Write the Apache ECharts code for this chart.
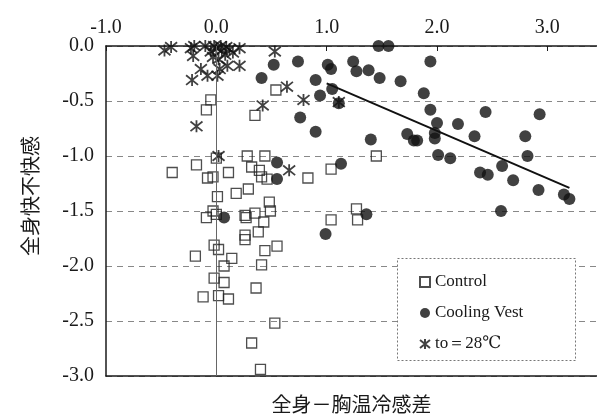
<!DOCTYPE html>
<html>
<head>
<meta charset="utf-8">
<script src="https://cdn.jsdelivr.net/npm/echarts@6/dist/echarts.min.js"></script>
<style>
  html, body { margin: 0; padding: 0; background: #fff; }
  #chart { width: 597px; height: 419px; }
</style>
</head>
<body>
<div id="chart"></div>
<script>
// values: [全身－胸温冷感差, 全身快不快感]
const controlPts = [
  [0.54, -0.40], [-0.05, -0.49], [-0.09, -0.58], [0.35, -0.63], [0.28, -1.00], [0.44, -1.00],
  [0.00, -1.02], [-0.18, -1.08], [-0.40, -1.15], [0.11, -1.15], [0.32, -1.10], [0.39, -1.13],
  [0.41, -1.19], [0.46, -1.21], [-0.08, -1.20], [-0.03, -1.19], [0.83, -1.20], [0.01, -1.37],
  [0.18, -1.34], [0.29, -1.30], [0.48, -1.42], [-0.03, -1.50], [-0.09, -1.56], [0.00, -1.53],
  [0.26, -1.54], [0.27, -1.56], [0.35, -1.52], [0.49, -1.50], [0.43, -1.60], [0.26, -1.72],
  [0.26, -1.76], [0.38, -1.69], [-0.02, -1.81], [0.02, -1.85], [-0.19, -1.91], [0.14, -1.93],
  [0.44, -1.86], [0.55, -1.82], [0.07, -2.00], [0.41, -1.99], [-0.02, -2.11], [0.07, -2.15],
  [-0.12, -2.28], [0.02, -2.27], [0.11, -2.30], [0.36, -2.20], [0.53, -2.52], [0.32, -2.70],
  [0.40, -2.94], [1.45, -1.00], [1.04, -1.12], [1.27, -1.48], [1.28, -1.58], [1.04, -1.58]
];
const vestPts = [
  [0.74, -0.14], [1.01, -0.17], [1.04, -0.21], [1.24, -0.14], [1.27, -0.23], [1.38, -0.22],
  [1.48, -0.29], [1.67, -0.32], [1.94, -0.14], [0.90, -0.31], [0.94, -0.45], [1.05, -0.39],
  [1.11, -0.52], [0.76, -0.65], [0.90, -0.78], [1.40, -0.85], [1.88, -0.43], [1.73, -0.80],
  [1.79, -0.86], [1.82, -0.86], [1.94, -0.58], [2.00, -0.70], [1.98, -0.79], [1.98, -0.84],
  [2.01, -0.99], [2.12, -1.02], [2.19, -0.71], [2.34, -0.82], [2.44, -0.60], [2.39, -1.15],
  [2.46, -1.17], [2.59, -1.09], [2.69, -1.22], [2.80, -0.82], [2.82, -1.00], [2.93, -0.62],
  [2.92, -1.31], [3.15, -1.35], [3.20, -1.39], [2.58, -1.50], [1.13, -1.07], [1.36, -1.53],
  [1.47, 0.00], [1.56, 0.00], [0.52, -0.17], [0.41, -0.29], [0.55, -1.06], [0.55, -1.21],
  [0.07, -1.56], [0.99, -1.71]
];
const to28Pts = [
  [-0.47, -0.04], [-0.41, -0.01], [-0.23, -0.02], [-0.20, 0.00], [-0.21, -0.09], [-0.14, -0.21],
  [-0.22, -0.31], [-0.08, -0.27], [0.03, -0.21], [0.01, -0.27], [0.10, -0.18], [0.21, -0.18],
  [0.21, -0.02], [-0.10, 0.00], [-0.05, -0.05], [0.00, -0.02], [0.05, -0.04], [0.08, -0.08],
  [0.12, -0.03], [-0.03, -0.10], [0.02, -0.12], [0.15, -0.06], [-0.02, 0.00], [0.04, 0.00],
  [0.09, -0.01], [0.53, -0.05], [0.64, -0.37], [0.42, -0.54], [0.79, -0.49], [-0.18, -0.73],
  [0.02, -1.00], [0.66, -1.13], [1.11, -0.51]
];
const trendPts = [[1.0, -0.34], [3.2, -1.29]];
const seriesNames = ['Control', 'Cooling Vest', 'to＝28℃'];
const xTitle = '全身－胸温冷感差';
const yTitle = '全身快不快感';

const serif = '"Liberation Serif", "DejaVu Serif", serif';
const cjk = '"Noto Sans CJK JP", "Noto Sans CJK SC", sans-serif';
const ink = '#1a1a1a';
// six-armed star: an x crossed by a vertical stroke
const asterisk = 'path://M0,1L10,9M10,1L0,9M5,0L5,10';

const chart = echarts.init(document.getElementById('chart'), null, { renderer: 'canvas' });

chart.setOption({
  animation: false,
  backgroundColor: '#fff',
  grid: { left: 106, top: 46, right: 0, bottom: 34 },
  xAxis: [
    {
      type: 'value', position: 'top', min: -1, max: 3.45, interval: 1,
      axisLine: { show: true, onZero: false, lineStyle: { color: ink, width: 1.5 } },
      axisTick: { show: true, inside: true, length: 5, lineStyle: { color: ink } },
      axisLabel: {
        color: ink, fontFamily: serif, fontSize: 20, margin: 8, showMaxLabel: false,
        formatter: (v) => v.toFixed(1)
      },
      splitLine: { show: false }
    },
    {
      type: 'value', position: 'bottom', min: -1, max: 3.45, interval: 1,
      axisLine: { show: true, onZero: false, lineStyle: { color: ink, width: 1.5 } },
      axisTick: { show: false },
      axisLabel: { show: false },
      splitLine: { show: false },
      name: xTitle, nameLocation: 'middle', nameGap: 18,
      nameTextStyle: { color: ink, fontFamily: cjk, fontSize: 20 }
    }
  ],
  yAxis: {
    type: 'value', min: -3, max: 0, interval: 0.5,
    axisLine: { show: true, onZero: false, lineStyle: { color: ink, width: 1.5 } },
    axisTick: { show: false },
    axisLabel: {
      color: ink, fontFamily: serif, fontSize: 20, margin: 12,
      formatter: (v) => v.toFixed(1)
    },
    splitLine: { show: true, lineStyle: { color: '#888', type: [6, 5], width: 1 } },
    name: yTitle, nameLocation: 'middle', nameGap: 66, nameRotate: 90,
    nameTextStyle: { color: ink, fontFamily: cjk, fontSize: 20, padding: [0, 0, 0, 30] }
  },
  legend: {
    data: seriesNames,
    orient: 'vertical', left: 414, top: 268,
    itemWidth: 10, itemHeight: 10, itemGap: 13,
    textStyle: { color: ink, fontFamily: serif, fontSize: 17, lineHeight: 18 }
  },
  graphic: [{
    type: 'rect', left: 397, top: 258, silent: true,
    shape: { width: 178, height: 102 },
    style: { fill: '#fff', stroke: '#777', lineWidth: 1, lineDash: [2, 2] },
    z: 2
  }],
  series: [
    {
      name: seriesNames[0], type: 'scatter', data: controlPts,
      symbol: 'rect', symbolSize: 10,
      itemStyle: { color: 'rgba(0,0,0,0)', borderColor: '#222', borderWidth: 1.3 },
      markLine: {
        silent: true, symbol: 'none', label: { show: false },
        lineStyle: { color: '#666', type: 'solid', width: 1 },
        data: [{ xAxis: 0 }]
      },
      z: 3
    },
    {
      name: seriesNames[1], type: 'scatter', data: vestPts,
      symbol: 'circle', symbolSize: 12,
      itemStyle: { color: '#111' },
      z: 3
    },
    {
      name: seriesNames[2], type: 'scatter', data: to28Pts,
      symbol: asterisk, symbolSize: 12,
      itemStyle: { color: 'rgba(0,0,0,0)', borderColor: '#111', borderWidth: 1.8 },
      z: 4
    },
    {
      name: 'trend', type: 'line', data: trendPts,
      symbol: 'none', lineStyle: { color: '#111', width: 2 },
      z: 3
    }
  ]
});
</script>
</body>
</html>
